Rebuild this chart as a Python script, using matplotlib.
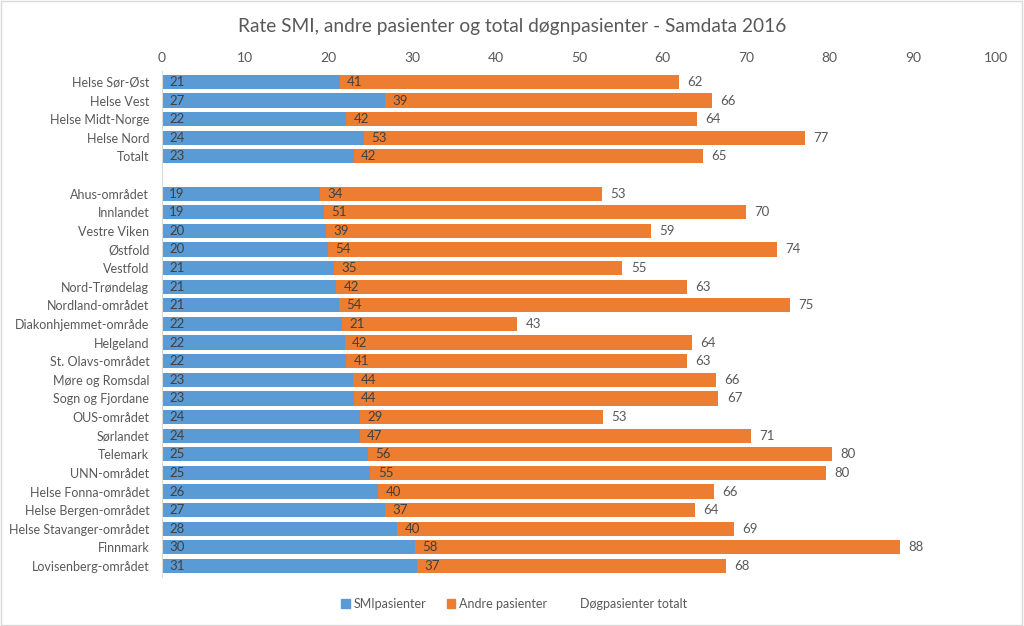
import matplotlib
matplotlib.use("Agg")
import matplotlib.pyplot as plt
from matplotlib.patches import Patch, Rectangle

plt.rcParams['font.family'] = ['Lato', 'DejaVu Sans']

title = "Rate SMI, andre pasienter og total døgnpasienter - Samdata 2016"

regions = ["Helse Sør-Øst", "Helse Vest", "Helse Midt-Norge", "Helse Nord", "Totalt"]
regions_smi = [21.3, 26.7, 22.1, 24.2, 23.0]
regions_andre = [40.7, 39.2, 42.0, 52.9, 41.8]

areas = ["Ahus-området", "Innlandet", "Vestre Viken", "Østfold", "Vestfold",
         "Nord-Trøndelag", "Nordland-området", "Diakonhjemmet-område", "Helgeland",
         "St. Olavs-området", "Møre og Romsdal", "Sogn og Fjordane", "OUS-området",
         "Sørlandet", "Telemark", "UNN-området", "Helse Fonna-området",
         "Helse Bergen-området", "Helse Stavanger-området", "Finnmark",
         "Lovisenberg-området"]
areas_smi = [18.9, 19.4, 19.7, 19.9, 20.6, 20.9, 21.2, 21.6, 21.9, 22.1, 22.9,
             23.0, 23.7, 23.7, 24.7, 25.0, 25.9, 26.7, 28.2, 30.3, 30.6]
areas_andre = [33.8, 50.6, 38.9, 53.8, 34.6, 42.0, 54.1, 21.0, 41.6, 40.8, 43.5,
               43.7, 29.2, 46.9, 55.6, 54.6, 40.3, 37.2, 40.4, 58.1, 37.0]

legend_labels = ["SMIpasienter", "Andre pasienter", "Døgpasienter totalt"]

blue = "#5B9BD5"
orange = "#ED7D31"
txt = "#595959"

labels = regions + areas
smi = regions_smi + areas_smi
andre = regions_andre + areas_andre
ypos = list(range(len(regions))) + [i + len(regions) + 1 for i in range(len(areas))]

fig = plt.figure(figsize=(10.24, 6.26), dpi=100)
ax = fig.add_axes([0.158, 0.078, 0.815, 0.809])

ax.barh(ypos, smi, height=0.76, color=blue)
ax.barh(ypos, andre, left=smi, height=0.76, color=orange)

def rnd(v):
    return str(int(v + 0.5))

for y, s, a in zip(ypos, smi, andre):
    ax.text(0.9, y, rnd(s), va='center', ha='left', fontsize=9.5, color='#404040')
    ax.text(s + 0.9, y, rnd(a), va='center', ha='left', fontsize=9.5, color='#404040')
    ax.text(s + a + 1.0, y, rnd(s + a), va='center', ha='left', fontsize=9.5, color=txt)

ax.set_xlim(0, 100)
ax.set_ylim(max(ypos) + 0.6, -0.6)
ax.set_xticks(range(0, 101, 10))
ax.xaxis.tick_top()
ax.tick_params(axis='x', length=0, labelsize=10, labelcolor=txt, pad=5)
ax.set_yticks(ypos)
ax.set_yticklabels(labels)
ax.tick_params(axis='y', length=0, labelsize=9, labelcolor=txt, pad=9)
for side in ['top', 'right', 'bottom']:
    ax.spines[side].set_visible(False)
ax.spines['left'].set_color('#D9D9D9')

fig.text(0.5, 0.958, title, ha='center', va='center', fontsize=13.8, color=txt)

handles = [Patch(color=blue), Patch(color=orange), Patch(color='none')]
fig.legend(handles, legend_labels, loc='center', bbox_to_anchor=(0.502, 0.035),
           ncol=3, frameon=False, fontsize=9, labelcolor=txt,
           handlelength=0.7, handleheight=0.7, handletextpad=0.3, columnspacing=1.6)

fig.patches.append(Rectangle((0.001, 0.002), 0.997, 0.996, transform=fig.transFigure,
                             fill=False, edgecolor='#D9D9D9', linewidth=1))

fig.savefig("out.png", dpi=100)
